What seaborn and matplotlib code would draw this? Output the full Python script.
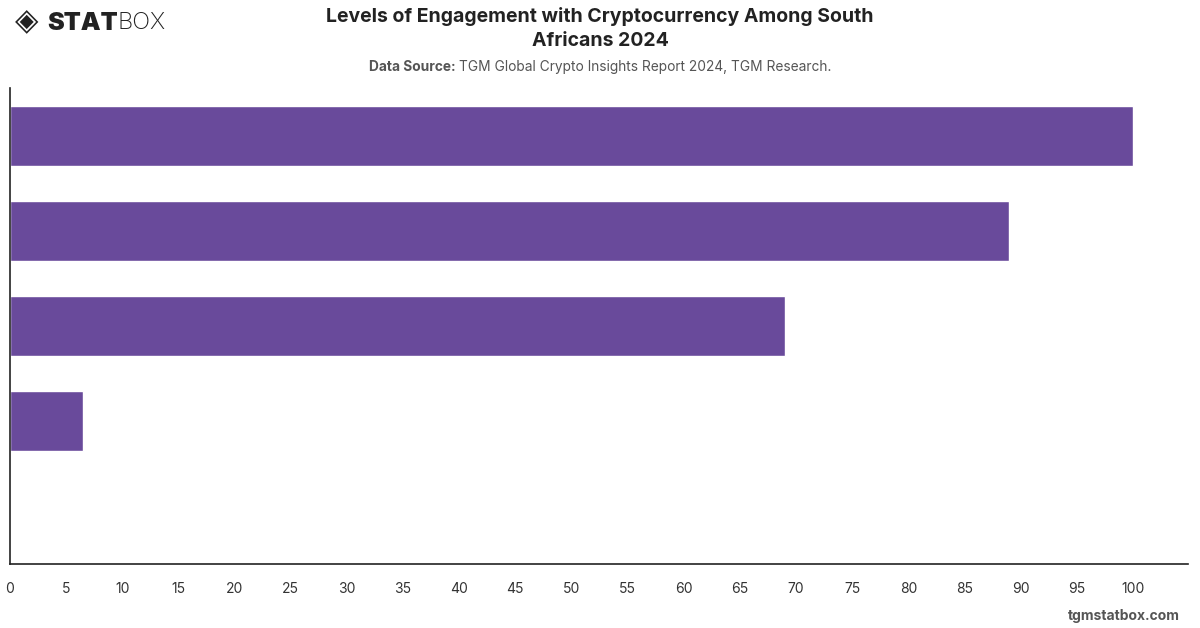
import matplotlib
matplotlib.use("Agg")
import matplotlib.pyplot as plt
import seaborn as sns
import pandas as pd

categories = ["Level A", "Level B", "Level C", "Level D", "Level E"]
values = [100, 89, 69, 6.5, 0]
x_ticks = list(range(0, 105, 5))

bar_color = "#694A9B"

sns.set_theme(style="white")
plt.rcParams['font.family'] = ['Inter', 'DejaVu Sans']

df = pd.DataFrame({"category": categories, "value": values})

fig = plt.figure(figsize=(12, 6.28), dpi=100)
ax = fig.add_axes([10/1200, 1-564/628, (1188-10)/1200, (564-88)/628])

sns.barplot(data=df, y="category", x="value", orient="h", color=bar_color,
            saturation=1, width=0.63, ax=ax)

ax.set_xlim(0, 104.9)
ax.set_ylim(4.5, -0.5)
ax.set_xticks(x_ticks)
ax.set_xticklabels([str(t) for t in x_ticks], fontsize=10, color="#333333")
ax.set_yticks([])
ax.set_xlabel("")
ax.set_ylabel("")
ax.tick_params(axis="x", length=0, pad=13)
for s in ["top", "right"]:
    ax.spines[s].set_visible(False)
for s in ["left", "bottom"]:
    ax.spines[s].set_color("#222222")
    ax.spines[s].set_linewidth(1.2)

fig.text(0.5, 1-17/628, "Levels of Engagement with Cryptocurrency Among South",
         ha="center", va="center", fontsize=14, fontweight="bold", color="#222222")
fig.text(0.5, 1-41/628, "Africans 2024",
         ha="center", va="center", fontsize=14, fontweight="bold", color="#222222")

r = fig.canvas.get_renderer()
sub_y = 1 - 67/628
part1 = "Data Source: "
part2 = "TGM Global Crypto Insights Report 2024, TGM Research."
a = fig.text(0, sub_y, part1, ha="left", va="center", fontsize=9.9, fontweight="bold", color="#555555")
b = fig.text(0, sub_y, part2, ha="left", va="center", fontsize=9.9, color="#555555")
fig.canvas.draw()
wa = a.get_window_extent(r).width
wb = b.get_window_extent(r).width
x0 = (1200 - wa - wb) / 2
a.set_x(x0 / 1200)
b.set_x((x0 + wa) / 1200)

# logo
fig.text(15/1200, 1-22/628, "\u25C8", ha="left", va="center", fontsize=22,
         color="#222222", family=["DejaVu Sans"])
s1 = fig.text(47/1200, 1-23/628, "STAT", ha="left", va="center", fontsize=18,
              fontweight="black", color="#222222")
fig.canvas.draw()
ws = s1.get_window_extent(r).width
fig.text((47 + ws) / 1200, 1-23/628, "BOX", ha="left", va="center", fontsize=17,
         fontweight="light", color="#222222")

fig.text(1180/1200, 1-616/628, "tgmstatbox.com", ha="right", va="center",
         fontsize=10, fontweight="bold", color="#555555")

fig.savefig("out.png", dpi=100)
